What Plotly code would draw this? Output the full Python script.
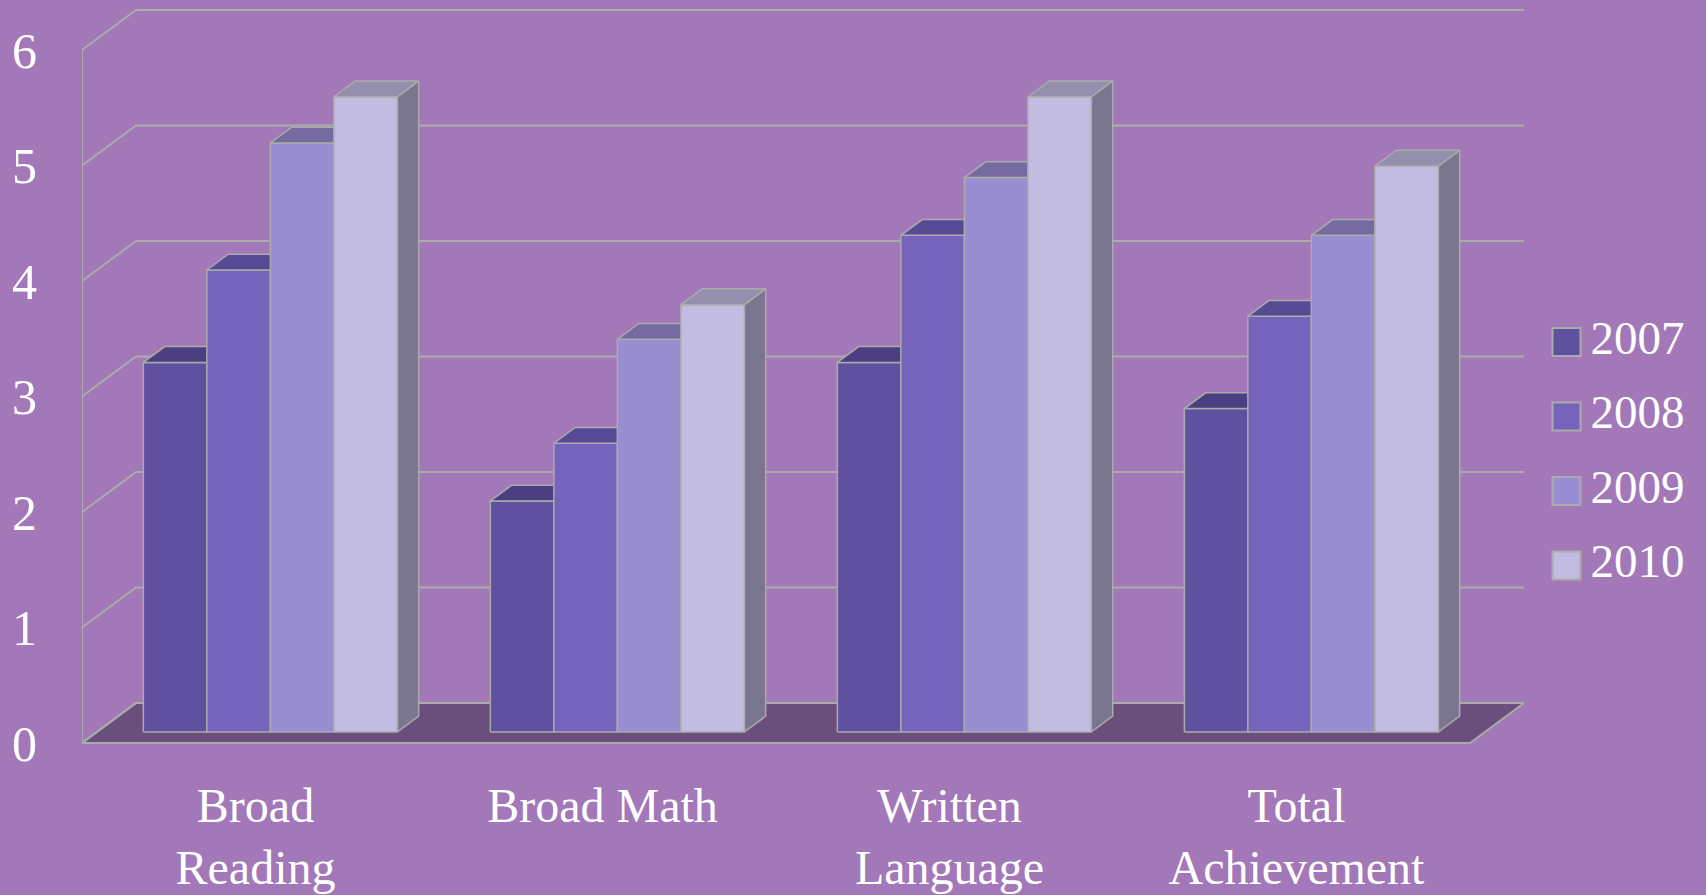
import plotly.graph_objects as go

# ---------------- data ----------------
categories = ["Broad Reading", "Broad Math", "Written Language", "Total Achievement"]
tick_text = ["Broad<br>Reading", "Broad Math", "Written<br>Language", "Total<br>Achievement"]
series_names = ["2007", "2008", "2009", "2010"]
v2007 = [3.2, 2.0, 3.2, 2.8]
v2008 = [4.0, 2.5, 4.3, 3.6]
v2009 = [5.1, 3.4, 4.8, 4.3]
v2010 = [5.5, 3.7, 5.5, 4.9]
series_values = [v2007, v2008, v2009, v2010]
y_ticks = [0, 1, 2, 3, 4, 5, 6]

# ---------------- styles ----------------
BG = "#A378B9"
FLOOR = "#6A4E7C"
EDGE = "#ABABAB"
front_colors = ["#6051A0", "#7663BB", "#9A8ED2", "#C2BBE2"]
top_colors = ["#4B3F82", "#574A94", "#756BA0", "#948FAD"]
side_colors = ["#5A5078", "#625A85", "#6E6890", "#7B7690"]
FONT = "Liberation Serif"

# geometry (pixel scale of the axes)
PX_X = 347.0     # pixels per category
PX_Y = 115.5     # pixels per value unit
ML, MB, MT = 82, 140, 0
W, H = 1706, 895
PLOT_W = 1444
PLOT_H = H - MT - MB
DXu = 54.0 / PX_X   # full depth offset in x units
DYu = 40.0 / PX_Y   # full depth offset in y units
Z0, Z1 = 0.275, 0.67  # bar front/back depth
GROUP_W = 0.732
BAR_W = GROUP_W / len(series_names)

def proj(x, v, z):
    return x + z * DXu, v + z * DYu

def poly(points):
    xs, ys = [], []
    for (x, v, z) in points + [points[0]]:
        px, py = proj(x, v, z)
        xs.append(px)
        ys.append(py)
    return xs, ys

fig = go.Figure()

n = len(categories)
# floor
fx, fy = poly([(-0.5, 0, 0), (n - 0.5, 0, 0), (n - 0.5, 0, 1), (-0.5, 0, 1)])
fig.add_trace(go.Scatter(x=fx, y=fy, mode="lines", fill="toself", fillcolor=FLOOR,
                         line=dict(color=EDGE, width=2), hoverinfo="skip", showlegend=False))

# walls / gridlines
gx, gy = [], []
for t in y_ticks:
    for (x, v, z) in [(-0.5, t, 0), (-0.5, t, 1), (n - 0.5, t, 1)]:
        px, py = proj(x, v, z)
        gx.append(px)
        gy.append(py)
    gx.append(None)
    gy.append(None)
for (x, v, z) in [(-0.5, 0, 0), (-0.5, y_ticks[-1], 0)]:
    px, py = proj(x, v, z)
    gx.append(px)
    gy.append(py)
fig.add_trace(go.Scatter(x=gx, y=gy, mode="lines", line=dict(color=EDGE, width=2),
                         hoverinfo="skip", showlegend=False))

# bars
for s, (vals, name) in enumerate(zip(series_values, series_names)):
    faces = {"front": ([], []), "top": ([], []), "side": ([], [])}
    for c, h in enumerate(vals):
        x0 = c - GROUP_W / 2 + s * BAR_W
        x1 = x0 + BAR_W
        shapes = {
            "front": [(x0, 0, Z0), (x1, 0, Z0), (x1, h, Z0), (x0, h, Z0)],
            "top": [(x0, h, Z0), (x1, h, Z0), (x1, h, Z1), (x0, h, Z1)],
            "side": [(x1, 0, Z0), (x1, 0, Z1), (x1, h, Z1), (x1, h, Z0)],
        }
        for k, pts in shapes.items():
            xs, ys = poly(pts)
            faces[k][0].extend(xs + [None])
            faces[k][1].extend(ys + [None])
    for k, col in [("side", side_colors[s]), ("front", front_colors[s]), ("top", top_colors[s])]:
        fig.add_trace(go.Scatter(x=faces[k][0], y=faces[k][1], mode="lines", fill="toself",
                                 fillcolor=col, line=dict(color=EDGE, width=1.5),
                                 name=name, hoverinfo="skip", showlegend=False))

# custom legend
idx = list(range(len(series_names)))
fig.add_trace(go.Scatter(x=[0] * len(idx), y=idx, mode="markers", xaxis="x2", yaxis="y2",
                         marker=dict(symbol="square", size=28, color=front_colors,
                                     line=dict(color=EDGE, width=2)),
                         hoverinfo="skip", showlegend=False))
fig.add_trace(go.Scatter(x=[24] * len(idx), y=idx, mode="text", xaxis="x2", yaxis="y2",
                         text=series_names, textposition="middle right",
                         textfont=dict(family=FONT, size=47, color="white"),
                         hoverinfo="skip", showlegend=False))

paper_w = W - ML
fig.update_layout(
    width=W, height=H,
    margin=dict(l=ML, r=0, t=MT, b=MB, pad=0, autoexpand=False),
    paper_bgcolor=BG, plot_bgcolor=BG,
    font=dict(family=FONT, color="white", size=50),
    showlegend=False,
    xaxis=dict(domain=[0, PLOT_W / paper_w], range=[-0.5, -0.5 + PLOT_W / PX_X],
               tickvals=list(range(n)), ticktext=tick_text, showgrid=False, zeroline=False,
               showline=False, ticks="", tickfont=dict(family=FONT, size=48, color="white"),
               ticklabelstandoff=18, automargin=False, fixedrange=True),
    yaxis=dict(domain=[0, 1], range=[-(PLOT_H - 743) / PX_Y, 743 / PX_Y],
               tickvals=y_ticks, ticktext=[str(t) for t in y_ticks], showgrid=False,
               zeroline=False, showline=False, ticks="",
               tickfont=dict(family=FONT, size=50, color="white"),
               ticklabelstandoff=44, automargin=False, fixedrange=True),
    xaxis2=dict(domain=[1458 / paper_w, 1], range=[-26.5, W - 1566.5], visible=False,
                anchor="y2", fixedrange=True, automargin=False),
    yaxis2=dict(domain=[0, 1], range=[(PLOT_H - 342) / 74.5, -342 / 74.5], visible=False,
                anchor="x2", fixedrange=True, automargin=False),
)

fig.write_html("out.html", config={"displayModeBar": False})
